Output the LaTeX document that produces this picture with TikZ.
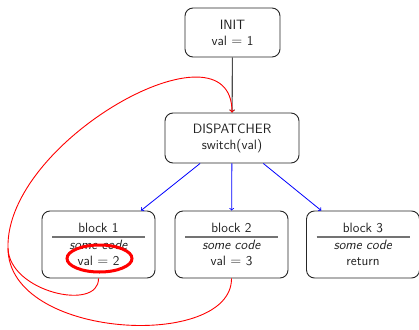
\documentclass[tikz,border=0pt]{standalone}
\usepackage{fontspec}
\usetikzlibrary{shapes.geometric,calc}
\begin{document}
\begin{tikzpicture}[x=1pt,y=-1pt,
  font=\sffamily\fontsize{13.5}{16}\selectfont,
  box/.style={draw=black!85, text=black!88, line width=0.9pt, rounded corners=8pt, align=center, inner sep=0pt},
  blockbox/.style={box, minimum width=113pt, minimum height=67pt},
  rulestyle/.style={draw=black!55, line width=1.6pt},
  flow/.style={draw=black!70, line width=1.1pt, ->},
  branch/.style={draw=blue, line width=0.8pt, ->},
  back/.style={draw=red, line width=0.9pt},
  hilite/.style={draw=red, line width=3pt, ellipse, minimum width=65pt, minimum height=27pt, inner sep=0pt}]
\useasboundingbox (0,0) rectangle (419,329);

\node[box, minimum width=95pt, minimum height=49pt] (init) at (232.5,32.5) {INIT\\val $=$ 1};
\node[box, minimum width=134pt, minimum height=50pt] (disp) at (232,138) {DISPATCHER\\switch(val)};

\node[blockbox] (b1) at (98.5,244.5) {block 1\\[1pt]\textit{some code}\\val $=$ 2};
\node[blockbox] (b2) at (231.5,244.5) {block 2\\[1pt]\textit{some code}\\val $=$ 3};
\node[blockbox] (b3) at (363,244.5) {block 3\\[1pt]\textit{some code}\\return};

\foreach \b in {b1,b2,b3}{
  \draw[rulestyle] ($(\b.center)+(-46.5,-7.5)$) -- ($(\b.center)+(46.5,-7.5)$);
}

\node[hilite] (hl) at ($(b1.center)+(1,14)$) {};

\draw[flow] (init) -- (disp);
\draw[branch] (disp) -- (b1);
\draw[branch] (disp) -- (b2);
\draw[branch] (disp) -- (b3);

\coordinate (L) at (8,248);
\draw[back, ->] (b1.south) .. controls (99,312) and (9,292) .. (L)
   .. controls (5,140) and (232,15) .. (disp.north);
\draw[back] (b2.south) .. controls (232,350) and (8,340) .. (L);
\end{tikzpicture}
\end{document}
